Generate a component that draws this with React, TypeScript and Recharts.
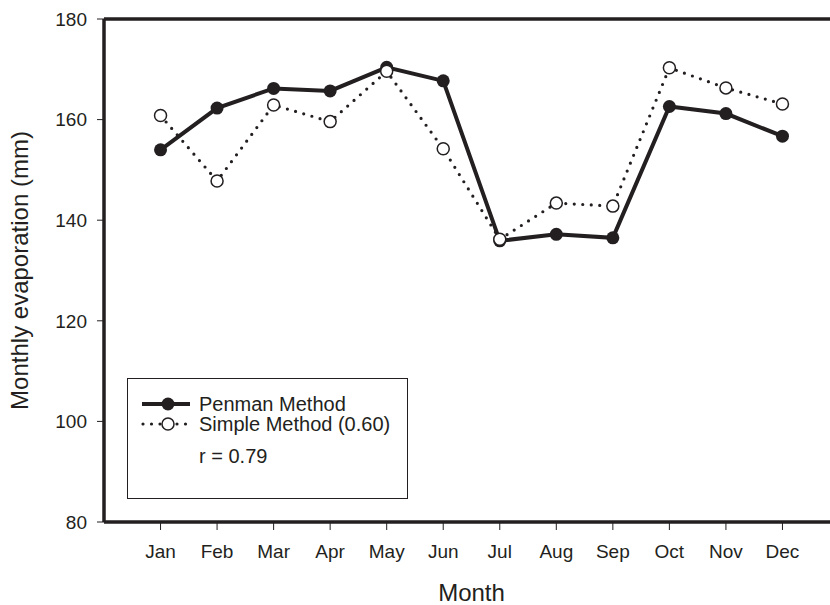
import { LineChart, Line, XAxis, YAxis, ReferenceLine } from "recharts";

const MONTHS = ["Jan", "Feb", "Mar", "Apr", "May", "Jun", "Jul", "Aug", "Sep", "Oct", "Nov", "Dec"];
const PENMAN = [154.0, 162.3, 166.2, 165.7, 170.4, 167.7, 135.9, 137.2, 136.5, 162.6, 161.2, 156.7];
const SIMPLE = [160.8, 147.8, 162.9, 159.6, 169.6, 154.2, 136.2, 143.4, 142.8, 170.3, 166.3, 163.1];
const Y_TICKS = [80, 100, 120, 140, 160, 180];
const X_TICKS = MONTHS.map((_, i) => i + 1);

const INK = "#231f20";
const FONT = "'Liberation Sans', Arial, sans-serif";

const data = MONTHS.map((m, i) => ({ idx: i + 1, month: m, penman: PENMAN[i], simple: SIMPLE[i] }));

function FilledDot(props: any) {
  const { cx, cy } = props;
  if (cx == null || cy == null) return null;
  return <circle cx={cx} cy={cy} r={6.5} fill={INK} />;
}

function OpenDot(props: any) {
  const { cx, cy } = props;
  if (cx == null || cy == null) return null;
  return <circle cx={cx} cy={cy} r={6} fill="#fff" stroke={INK} strokeWidth={1.5} />;
}

function YLabel(props: any) {
  const vb = props.viewBox || {};
  const cy = vb.y + vb.height / 2;
  return (
    <text x={11} y={cy} transform={`rotate(-90, 11, ${cy})`} textAnchor="middle" dominantBaseline="central"
      fontSize={24} fill={INK} fontFamily={FONT}>
      Monthly evaporation (mm)
    </text>
  );
}

function XLabel(props: any) {
  const vb = props.viewBox || {};
  return (
    <text x={vb.x + vb.width / 2} y={593} textAnchor="middle" fontSize={24} fill={INK} fontFamily={FONT}>
      Month
    </text>
  );
}

function LegendBox() {
  return (
    <div style={{ position: "absolute", left: 127, top: 378, width: 279, height: 119, border: `1px solid ${INK}`, background: "#fff" }}>
      <svg width={279} height={119} style={{ display: "block" }}>
        <line x1={14} y1={25} x2={62} y2={25} stroke={INK} strokeWidth={4} />
        <circle cx={40} cy={25} r={6.5} fill={INK} />
        <text x={71} y={25} dominantBaseline="central" fontSize={20} fill={INK} fontFamily={FONT}>Penman Method</text>
        <line x1={15} y1={45} x2={63} y2={45} stroke={INK} strokeWidth={3.2} strokeDasharray="0 8.5" strokeLinecap="round" />
        <circle cx={40} cy={45} r={6} fill="#fff" stroke={INK} strokeWidth={1.5} />
        <text x={71} y={45} dominantBaseline="central" fontSize={20} fill={INK} fontFamily={FONT}>Simple Method (0.60)</text>
        <text x={71} y={77} dominantBaseline="central" fontSize={20} fill={INK} fontFamily={FONT}>r = 0.79</text>
      </svg>
    </div>
  );
}

export default function App() {
  return (
    <div style={{ position: "fixed", left: 0, top: 0, width: 830, height: 605, overflow: "hidden", background: "#fff", fontFamily: FONT }}>
      <div style={{ position: "absolute", left: 8, top: 8 }}>
        <LineChart width={840} height={597} data={data} margin={{ top: 11, right: 9, bottom: 0, left: 0 }}>
          <XAxis
            dataKey="idx"
            type="number"
            domain={[0, 13]}
            ticks={X_TICKS}
            tickFormatter={(v: number) => MONTHS[v - 1]}
            height={83}
            tickSize={8}
            tickMargin={15}
            axisLine={{ stroke: INK, strokeWidth: 3.5 }}
            tickLine={{ stroke: INK, strokeWidth: 1 }}
            tick={{ fill: INK, fontSize: 19, fontFamily: FONT }}
            label={<XLabel />}
          />
          <YAxis
            domain={[80, 180]}
            ticks={Y_TICKS}
            width={96}
            tickSize={7}
            tickMargin={10}
            axisLine={{ stroke: INK, strokeWidth: 3.5 }}
            tickLine={{ stroke: INK, strokeWidth: 1 }}
            tick={{ fill: INK, fontSize: 19, fontFamily: FONT }}
            label={<YLabel />}
          />
          <ReferenceLine y={180} stroke={INK} strokeWidth={3.5} />
          <Line
            dataKey="penman"
            stroke={INK}
            strokeWidth={4}
            dot={<FilledDot />}
            activeDot={false}
            isAnimationActive={false}
          />
          <Line
            dataKey="simple"
            stroke={INK}
            strokeWidth={3.2}
            strokeDasharray="0 8.5"
            strokeLinecap="round"
            dot={<OpenDot />}
            activeDot={false}
            isAnimationActive={false}
          />
        </LineChart>
      </div>
      <LegendBox />
    </div>
  );
}
